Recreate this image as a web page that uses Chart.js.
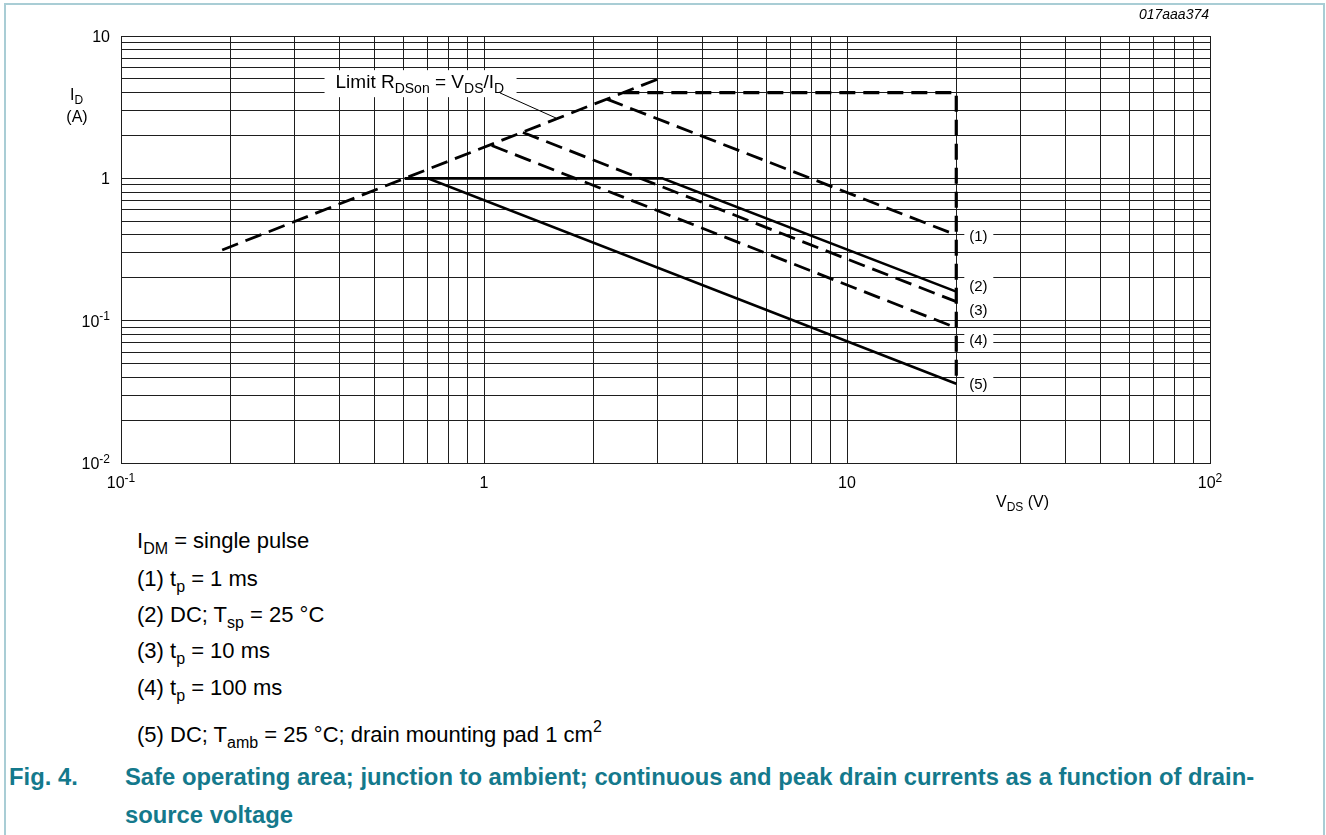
<!DOCTYPE html>
<html>
<head>
<meta charset="utf-8">
<title>Safe operating area</title>
<script src="https://cdn.jsdelivr.net/npm/chart.js@4.4.1/dist/chart.umd.min.js"></script>
<style>
  html, body { margin: 0; padding: 0; background: #fff; }
  body { width: 1326px; height: 835px; position: relative; overflow: hidden;
         font-family: "Liberation Sans", Arial, sans-serif; color: #000; }
  #frame { position: absolute; left: 4px; top: 3px; width: 1321px; height: 840px;
           border: 2px solid #a9cdd5; border-bottom: none; box-sizing: border-box; }
  #wrap { position: absolute; left: 0; top: 0; width: 1326px; height: 520px; }
  .note { position: absolute; left: 137px; font-size: 22px; line-height: 22px; white-space: nowrap; }
  .note sub { font-size: 16px; vertical-align: baseline; position: relative; top: 6px; line-height: 0; }
  .note sup { font-size: 16px; vertical-align: baseline; position: relative; top: -10px; line-height: 0; }
  .cap { position: absolute; font-size: 23.8px; line-height: 24px; font-weight: bold; color: #14798c; white-space: nowrap; }
</style>
</head>
<body>
<div id="frame"></div>
<div id="wrap"><canvas id="soa" width="1326" height="520"></canvas></div>

<div class="note" style="top:530px">I<sub>DM</sub> = single pulse</div>
<div class="note" style="top:568px">(1) t<sub>p</sub> = 1 ms</div>
<div class="note" style="top:604px">(2) DC; T<sub>sp</sub> = 25 °C</div>
<div class="note" style="top:640px">(3) t<sub>p</sub> = 10 ms</div>
<div class="note" style="top:677px">(4) t<sub>p</sub> = 100 ms</div>
<div class="note" style="top:724px">(5) DC; T<sub>amb</sub> = 25 °C; drain mounting pad 1 cm<sup>2</sup></div>

<div class="cap" style="left:9px; top:765px">Fig. 4.</div>
<div class="cap" style="left:125px; top:765px">Safe operating area; junction to ambient; continuous and peak drain currents as a function of drain-</div>
<div class="cap" style="left:125px; top:803px">source voltage</div>

<script>
// --- data (V_DS in volts, I_D in amps) ---
const limitV = [0.19, 3.0];           // Limit R_DSon = V_DS / I_D
const limitI = [0.314, 4.96];
const peakV = [2.42, 20, 20];         // I_DM ceiling and V_DS max
const peakI = [4.0, 4.0, 0.036];
const tp1V = [2.18, 20];              // (1) tp = 1 ms
const tp1I = [3.6, 0.40];
const dcSpV = [0.605, 3.1, 20];       // (2) DC; Tsp = 25 C
const dcSpI = [1.0, 1.0, 0.16];
const tp10V = [1.28, 20];             // (3) tp = 10 ms
const tp10I = [2.1, 0.136];
const tp100V = [1.05, 20];            // (4) tp = 100 ms
const tp100I = [1.7, 0.089];
const dcAmbV = [0.605, 0.70, 20];     // (5) DC; Tamb = 25 C
const dcAmbI = [1.0, 1.0, 0.036];
const leaderV = [1.107, 1.58];        // pointer from the limit label
const leaderI = [3.98, 2.65];

const curveLabels = ['(1)', '(2)', '(3)', '(4)', '(5)'];
const curveLabelV = 23;
const curveLabelI = [0.393, 0.175, 0.119, 0.073, 0.036];
const limitLabelV = 0.39;
const limitLabelI = 4.3;

const xTickVals = [0.1, 1, 10, 100];
const xTickLabels = [['10', '-1'], ['1', ''], ['10', ''], ['10', '2']];
const yTickVals = [10, 1, 0.1, 0.01];
const yTickLabels = [['10', ''], ['1', ''], ['10', '-1'], ['10', '-2']];

const FONT = '"Liberation Sans", Arial, sans-serif';

// every 1..9 x 10^n line between the axis limits
function decadeGrid(lo, hi) {
  const out = [];
  for (let e = Math.round(Math.log10(lo)); e < Math.round(Math.log10(hi)); e++) {
    for (let m = 1; m < 10; m++) out.push(+(m * Math.pow(10, e)).toPrecision(3));
  }
  out.push(hi);
  return out;
}

function pts(xs, ys) { return xs.map((x, i) => ({ x: x, y: ys[i] })); }

// draw text made of [text, mode] parts, mode 0 normal, 1 subscript, 2 superscript
function drawRich(ctx, parts, x, y, align, size, style) {
  const small = Math.round(size * 0.75);
  const pre = style ? style + ' ' : '';
  let w = 0;
  parts.forEach(p => {
    ctx.font = pre + (p[1] ? small : size) + 'px ' + FONT;
    w += ctx.measureText(p[0]).width;
  });
  let cx = align === 'right' ? x - w : align === 'center' ? x - w / 2 : x;
  ctx.textAlign = 'left';
  ctx.textBaseline = 'alphabetic';
  parts.forEach(p => {
    ctx.font = pre + (p[1] ? small : size) + 'px ' + FONT;
    const dy = p[1] === 1 ? size * 0.26 : p[1] === 2 ? -size * 0.4 : 0;
    ctx.fillText(p[0], cx, y + dy);
    cx += ctx.measureText(p[0]).width;
  });
}

const labelPlugin = {
  id: 'soaLabels',
  beforeDatasetsDraw(chart) {
    const ctx = chart.ctx, xs = chart.scales.x, ys = chart.scales.y;
    ctx.save();
    ctx.fillStyle = '#fff';
    // white patches behind the annotations
    const lx = xs.getPixelForValue(limitLabelV), ly = ys.getPixelForValue(limitLabelI);
    ctx.fillRect(lx - 11, ly - 18, 192, 27);
    const cx = xs.getPixelForValue(curveLabelV);
    curveLabelI.forEach(v => {
      const py = ys.getPixelForValue(v);
      ctx.fillRect(cx - 14, py - 10, 29, 20);
    });
    ctx.restore();
  },
  afterDatasetsDraw(chart) {
    const ctx = chart.ctx, xs = chart.scales.x, ys = chart.scales.y;
    const area = chart.chartArea;
    ctx.save();
    ctx.fillStyle = '#000';

    const lx = xs.getPixelForValue(limitLabelV), ly = ys.getPixelForValue(limitLabelI);
    drawRich(ctx, [['Limit R', 0], ['DSon', 1], [' = V', 0], ['DS', 1], ['/I', 0], ['D', 1]], lx, ly, 'left', 19);

    const cx = xs.getPixelForValue(curveLabelV);
    curveLabels.forEach((t, i) => {
      const py = ys.getPixelForValue(curveLabelI[i]);
      drawRich(ctx, [[t, 0]], cx, py + 5, 'center', 15);
    });

    // tick labels
    xTickVals.forEach((v, i) => {
      const px = xs.getPixelForValue(v);
      drawRich(ctx, [[xTickLabels[i][0], 0], [xTickLabels[i][1], 2]], px, area.bottom + 25, 'center', 16);
    });
    yTickVals.forEach((v, i) => {
      const py = ys.getPixelForValue(v);
      drawRich(ctx, [[yTickLabels[i][0], 0], [yTickLabels[i][1], 2]], area.left - 11, py + 6, 'right', 16);
    });

    // axis titles
    drawRich(ctx, [['I', 0], ['D', 1]], 70, 100, 'left', 16);
    drawRich(ctx, [['(A)', 0]], 77, 122, 'center', 16);
    drawRich(ctx, [['V', 0], ['DS', 1], [' (V)', 0]], 996, 507, 'left', 16);
    drawRich(ctx, [['017aaa374', 0]], 1209, 19, 'right', 14, 'italic');
    ctx.restore();
  }
};

const lineStyle = (data, dash, width) => ({
  data: data,
  showLine: true,
  borderColor: '#000',
  borderWidth: width,
  borderDash: dash,
  pointRadius: 0,
  fill: false,
  tension: 0
});

const gridOpts = { color: '#1e1e1e', lineWidth: 1, drawTicks: false };

new Chart(document.getElementById('soa'), {
  type: 'scatter',
  data: {
    datasets: [
      lineStyle(pts(limitV, limitI), [17, 8], 2.8),
      lineStyle(pts(peakV, peakI), [16, 8], 3.2),
      lineStyle(pts(tp1V, tp1I), [17, 8], 2.8),
      lineStyle(pts(dcSpV, dcSpI), [], 2.6),
      lineStyle(pts(tp10V, tp10I), [17, 8], 2.8),
      lineStyle(pts(tp100V, tp100I), [17, 8], 2.8),
      lineStyle(pts(dcAmbV, dcAmbI), [], 2.6),
      lineStyle(pts(leaderV, leaderI), [], 1)
    ]
  },
  options: {
    responsive: false,
    animation: false,
    devicePixelRatio: 1,
    layout: { padding: { left: 121, top: 36, right: 116, bottom: 57 } },
    plugins: { legend: { display: false }, tooltip: { enabled: false } },
    scales: {
      x: {
        type: 'logarithmic', min: 0.1, max: 100,
        grid: gridOpts,
        border: { color: '#1e1e1e', width: 1 },
        ticks: { display: false },
        afterBuildTicks: s => { s.ticks = decadeGrid(0.1, 100).map(v => ({ value: v })); }
      },
      y: {
        type: 'logarithmic', min: 0.01, max: 10,
        grid: gridOpts,
        border: { color: '#1e1e1e', width: 1 },
        ticks: { display: false },
        afterBuildTicks: s => { s.ticks = decadeGrid(0.01, 10).map(v => ({ value: v })); }
      }
    }
  },
  plugins: [labelPlugin]
});
</script>
</body>
</html>
